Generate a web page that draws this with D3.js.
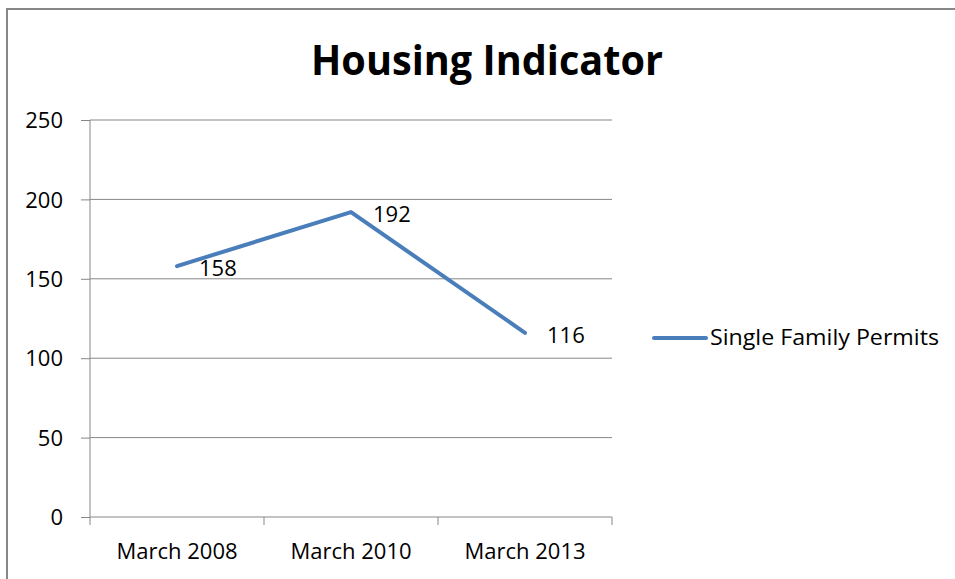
<!DOCTYPE html>
<html><head><meta charset="utf-8">
<script src="https://cdn.jsdelivr.net/npm/d3@7"></script>
<style>body{margin:0;background:#fff}svg{display:block}text{font-family:"Open Sans",sans-serif}</style>
</head><body>
<svg id="c" width="955" height="579"></svg>
<script>
const categories = ["March 2008", "March 2010", "March 2013"];
const seriesName = "Single Family Permits";
const values = [158, 192, 116];
const yTicks = [0, 50, 100, 150, 200, 250];
const title = "Housing Indicator";

const svg = d3.select("#c");
const W = 955, H = 579;
const m = {left: 90, right: 612, top: 120, bottom: 517};
const FONT = "'Open Sans', sans-serif";
const FS = 22;

svg.append("rect").attr("x", 7).attr("y", 9).attr("width", W + 10).attr("height", H + 10)
  .attr("fill", "#fff").attr("stroke", "#878787").attr("stroke-width", 2);

svg.append("text").attr("x", 487).attr("y", 75).attr("text-anchor", "middle")
  .attr("font-size", 41).attr("font-weight", "bold").attr("fill", "#000")
  .attr("textLength", 352).attr("lengthAdjust", "spacingAndGlyphs").text(title);

const x = d3.scaleBand().domain(categories).range([m.left, m.right]);
const y = d3.scaleLinear().domain([0, 250]).range([m.bottom, m.top]);

svg.append("g").selectAll("line").data(yTicks.filter(d => d > 0)).join("line")
  .attr("x1", m.left).attr("x2", m.right).attr("y1", d => y(d)).attr("y2", d => y(d))
  .attr("stroke", "#878787").attr("stroke-width", 1);

const ya = svg.append("g").attr("transform", `translate(${m.left},0)`)
  .call(d3.axisLeft(y).tickValues(yTicks).tickSize(9).tickPadding(18));
ya.select(".domain").attr("stroke", "#878787").attr("d", `M0,${m.top}V${m.bottom}`);
ya.selectAll(".tick line").attr("stroke", "#878787");
ya.selectAll("text").attr("font-size", FS).attr("fill", "#000").attr("font-family", FONT).attr("dy", "0.35em");

const xa = svg.append("g").attr("transform", `translate(0,${m.bottom})`)
  .call(d3.axisBottom(x).tickSize(0).tickPadding(26));
xa.select(".domain").attr("stroke", "#878787").attr("d", `M${m.left},0H${m.right}`);
xa.selectAll("text").attr("font-size", FS).attr("fill", "#000").attr("font-family", FONT);
const bounds = [m.left].concat(categories.map(c => x(c) + x.bandwidth()));
xa.append("g").selectAll("line").data(bounds).join("line")
  .attr("x1", d => d).attr("x2", d => d).attr("y1", 0).attr("y2", 8).attr("stroke", "#878787");

const cx = c => x(c) + x.bandwidth() / 2;
const line = d3.line().x((d, i) => cx(categories[i])).y(d => y(d));
svg.append("path").datum(values).attr("d", line).attr("fill", "none")
  .attr("stroke", "#4a7ebb").attr("stroke-width", 4).attr("stroke-linejoin", "round").attr("stroke-linecap", "round");

svg.append("g").selectAll("text").data(values).join("text")
  .attr("x", (d, i) => cx(categories[i]) + 22).attr("y", d => y(d) + 10)
  .attr("font-size", FS).attr("fill", "#000").text(d => d);

svg.append("line").attr("x1", 654).attr("x2", 706).attr("y1", 338).attr("y2", 338)
  .attr("stroke", "#4a7ebb").attr("stroke-width", 4).attr("stroke-linecap", "round");
svg.append("text").attr("x", 710).attr("y", 345).attr("font-size", FS).attr("fill", "#000")
  .attr("textLength", 229).attr("lengthAdjust", "spacingAndGlyphs").text(seriesName);
</script>
</body></html>
